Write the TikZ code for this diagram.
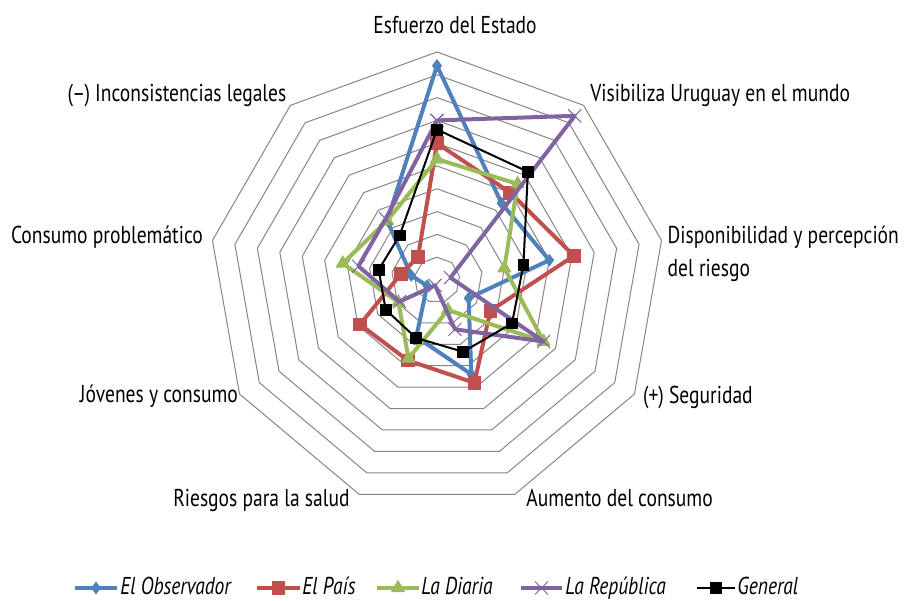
\documentclass[tikz,border=0pt]{standalone}
\usepackage{fontspec}
\setmainfont{PT Sans}[FakeStretch=0.8]
\usetikzlibrary{plotmarks}
\definecolor{obsblue}{HTML}{4F81BD}
\definecolor{paisred}{HTML}{C0504D}
\definecolor{diariagreen}{HTML}{9BBB59}
\definecolor{repviolet}{HTML}{8064A2}
\definecolor{ringgray}{HTML}{868686}
\tikzset{
  ring/.style={draw=ringgray, line width=0.5pt},
  axislabel/.style={font=\fontsize{12.2}{16.5}\selectfont, inner sep=0pt},
  legendlabel/.style={font=\fontsize{12.2}{16.5}\selectfont\itshape, inner sep=0pt, anchor=base west},
  observador/.style={obsblue, line width=2pt, line join=round, mark=diamond*, mark size=2.9pt,
    mark options={fill=obsblue, line width=0.4pt}},
  pais/.style={paisred, line width=2pt, line join=round, mark=square*, mark size=3.2pt,
    mark options={fill=paisred, line width=0.4pt}},
  diaria/.style={diariagreen, line width=2pt, line join=round, mark=triangle*, mark size=3.8pt,
    mark options={fill=diariagreen, line width=0.4pt}},
  republica/.style={repviolet, line width=2pt, line join=round, mark=x, mark size=4.6pt,
    mark options={line width=0.5pt}},
  general/.style={black, line width=1pt, line join=round, mark=square*, mark size=2.7pt,
    mark options={fill=black, line width=0.4pt}}
}
\begin{document}
\begin{tikzpicture}[x=0.5pt, y=0.5pt]
  \useasboundingbox (-437,-320) rectangle (467,280);
  \begin{scope}[x=11.4pt, y=11.4pt]
    % routine for rings
    \foreach \r in {1,...,10}
      \draw[ring] (90:\r) \foreach \a in {50,10,-30,-70,-110,-150,-190,-230} {-- (\a:\r)} -- cycle;
    % series
    \draw[observador] plot coordinates {(90:9.4) (50:4.4) (10:5.0) (-30:1.6) (-70:4.4)
      (-110:2.65) (-150:0.5) (-190:1.15) (-230:3.4) (90:9.4)};
    \draw[pais] plot coordinates {(90:6.0) (50:5.0) (10:6.1) (-30:2.7) (-70:4.8)
      (-110:3.75) (-150:3.9) (-190:1.6) (-230:1.3) (90:6.0)};
    \draw[diaria] plot coordinates {(90:5.3) (50:5.5) (10:3.0) (-30:5.4) (-70:1.4)
      (-110:3.66) (-150:1.95) (-190:4.2) (-230:3.4) (90:5.3)};
    \draw[republica] plot coordinates {(90:7.0) (50:9.4) (10:0.6) (-30:5.4) (-70:2.3)
      (-110:0.25) (-150:1.9) (-190:3.5) (-230:3.5) (90:7.0)};
    \draw[general] plot coordinates {(90:6.6) (50:6.2) (10:3.85) (-30:3.8) (-70:3.35)
      (-110:2.7) (-150:2.6) (-190:2.6) (-230:2.55) (90:6.6)};
  \end{scope}
  % axis labels
  \node[axislabel, anchor=base] (esfuerzo) at (18,246.7) {Esfuerzo del Estado};
  \node[axislabel, anchor=base west] (visibiliza) at (153,178.3) {Visibiliza Uruguay en el mundo};
  \node[axislabel, anchor=base west, align=left] (disponibilidad) at (230.3,3.3) {Disponibilidad y percepción\\del riesgo};
  \node[axislabel, anchor=base west] (seguridad) at (205.7,-123.3) {(+) Seguridad};
  \node[axislabel, anchor=base west] (aumento) at (89,-226.7) {Aumento del consumo};
  \node[axislabel, anchor=base east] (riesgos) at (-87,-226.7) {Riesgos para la salud};
  \node[axislabel, anchor=base east] (jovenes) at (-198.7,-122.7) {Jóvenes y consumo};
  \node[axislabel, anchor=base east] (problematico) at (-233.7,36.7) {Consumo problemático};
  \node[axislabel, anchor=base east] (inconsistencias) at (-150.3,178.3) {(–) Inconsistencias legales};
  % legend
  \draw[observador, mark indices={2}] plot coordinates {(-362,-308) (-341,-308) (-320,-308)};
  \node[legendlabel] (legobservador) at (-317,-314) {El Observador};
  \draw[pais, mark indices={2}] plot coordinates {(-180,-308) (-158.5,-308) (-137,-308)};
  \node[legendlabel] (legpais) at (-135,-314) {El País};
  \draw[diaria, mark indices={2}] plot coordinates {(-60,-308) (-39,-308) (-18,-308)};
  \node[legendlabel] (legdiaria) at (-16,-314) {La Diaria};
  \draw[republica, mark indices={2}] plot coordinates {(84,-308) (104.5,-308) (125,-308)};
  \node[legendlabel] (legrepublica) at (128,-314) {La República};
  \draw[general, mark indices={2}] plot coordinates {(260,-308) (279,-308) (298,-308)};
  \node[legendlabel] (leggeneral) at (300,-314) {General};
\end{tikzpicture}
\end{document}
